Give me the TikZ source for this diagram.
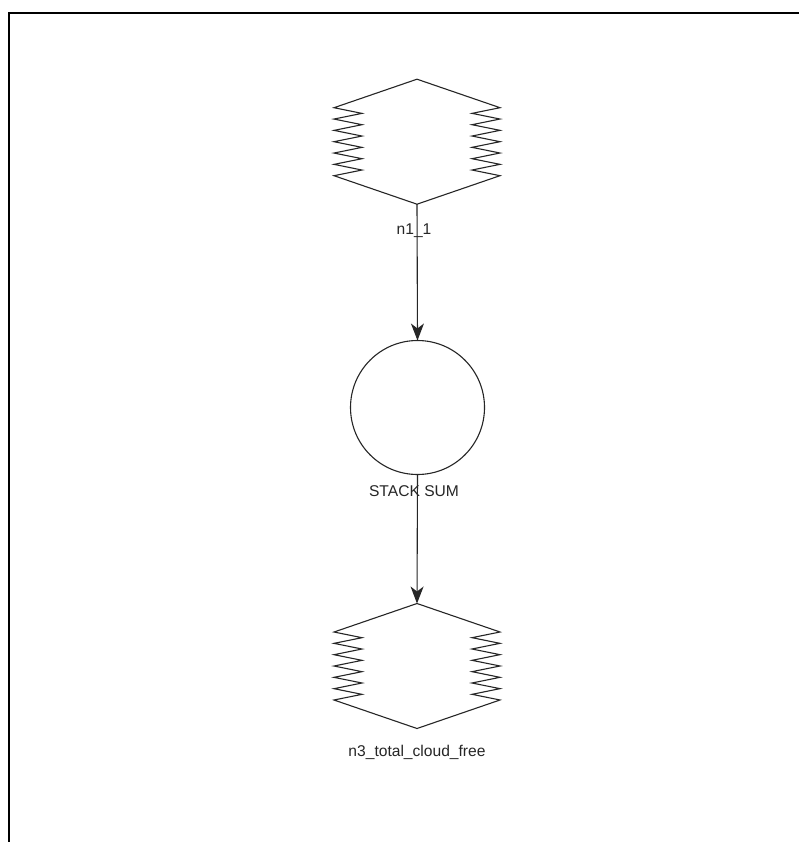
\documentclass[tikz,border=0pt]{standalone}
\usepackage{fontspec}
\setmainfont{Liberation Sans}
\usetikzlibrary{arrows.meta}
\tikzset{
  shp/.style={draw=black!85, line width=1.1pt, line join=miter},
  boxnode/.style={minimum width=166pt, minimum height=125pt, inner sep=0pt, outer sep=0pt},
  sumnode/.style={circle, draw=black!85, line width=1.1pt, minimum size=134pt, inner sep=0pt, outer sep=0pt},
  lbl/.style={font=\fontsize{15.6}{18}\selectfont, text=black!85, inner sep=0pt},
  conn/.style={draw=black!85, line width=1.1pt, -{Stealth[length=17pt, width=13pt, inset=5pt]}},
  frame/.style={draw=black, line width=2pt}
}
% spring-sided hexagon drawn around a named node (local coords in px, y down)
\newcommand\springhex[1]{%
  \begin{scope}[shift={(#1.center)}]
    \draw[shp] (0,-62.5) -- (83,-34)
      \foreach \i in {0,...,5} { -- (55,{-34+\i*11.33+5.67}) -- (83,{-34+(\i+1)*11.33})}
      -- (0,62.5) -- (-83,34)
      \foreach \i in {0,...,5} { -- (-55,{34-\i*11.33-5.67}) -- (-83,{34-(\i+1)*11.33})}
      -- cycle;
  \end{scope}}
\begin{document}
\begin{tikzpicture}[x=1pt, y=-1pt]
  \useasboundingbox (0,0) rectangle (799,842);
  \fill[white] (0,0) rectangle (799,842);
  \coordinate (frTL) at (9,13);
  \coordinate (frTR) at (799,13);
  \coordinate (frBL) at (9,842);
  \draw[frame] (frTR) -- (frTL) -- (frBL);

  \node[boxnode] (n1) at (417,141.7) {};
  \springhex{n1}
  \node[lbl] (n1lbl) at (414,230.5) {n1\_1};

  \node[sumnode] (sum) at (417.5,407.5) {};
  \node[lbl] (sumlbl) at (414,491) {STACK SUM};

  \node[boxnode] (n3) at (417,666) {};
  \springhex{n3}
  \node[lbl] (n3lbl) at (417,752) {n3\_total\_cloud\_free};

  \draw[conn] (n1.south) -- (sum.north);
  \draw[conn] (sum.south) -- (n3.north);
\end{tikzpicture}
\end{document}
